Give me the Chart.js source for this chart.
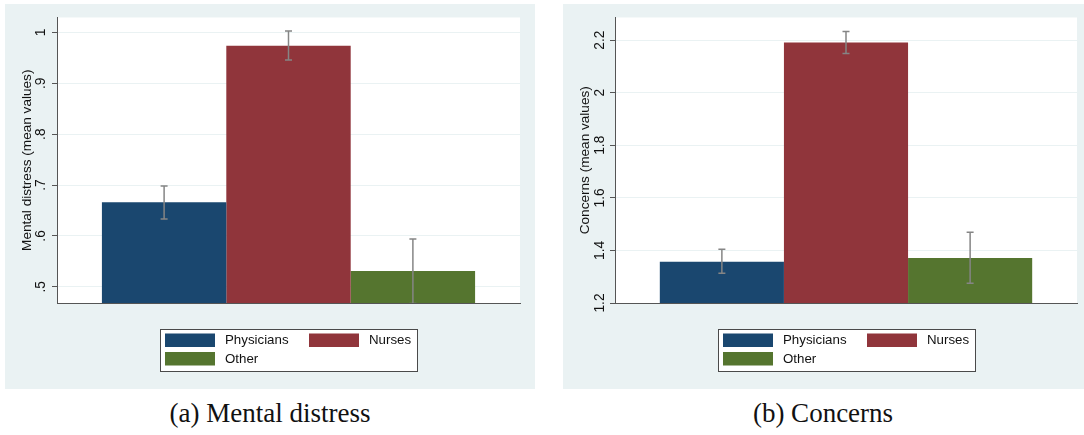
<!DOCTYPE html>
<html><head><meta charset="utf-8">
<script src="https://cdn.jsdelivr.net/npm/chart.js@4.4.1/dist/chart.umd.min.js"></script>
<style>
html,body{margin:0;padding:0;background:#fff;width:1084px;height:435px;overflow:hidden;}
.panel{position:absolute;background:#eaf2f3;}
.panel canvas{position:absolute;left:0;top:0;}
.cap{position:absolute;font-family:"Liberation Serif","Times New Roman",serif;font-size:27px;line-height:27px;text-align:center;color:#111;white-space:nowrap;width:400px;}
</style></head><body>
<div class="panel" style="left:5px;top:4px;width:530px;height:385px"><canvas id="c1" width="530" height="385"></canvas></div>
<div class="panel" style="left:563px;top:4px;width:521px;height:385px"><canvas id="c2" width="521" height="385"></canvas></div>
<div class="cap" style="left:70px;top:400px">(a) Mental distress</div>
<div class="cap" style="left:623px;top:400px">(b) Concerns</div>
<script>
// ---- data ----
const groups = ['Physicians', 'Nurses', 'Other'];

const distressMeans = [0.666, 0.974, 0.531];
const distressLower = [0.633, 0.946, 0.467];
const distressUpper = [0.698, 1.003, 0.594];
const distressTicks = [0.5, 0.6, 0.7, 0.8, 0.9, 1.0];
const distressTickLabels = ['.5', '.6', '.7', '.8', '.9', '1'];

const concernsMeans = [1.357, 2.191, 1.371];
const concernsLower = [1.313, 2.149, 1.275];
const concernsUpper = [1.404, 2.233, 1.469];
const concernsTicks = [1.2, 1.4, 1.6, 1.8, 2.0, 2.2];
const concernsTickLabels = ['1.2', '1.4', '1.6', '1.8', '2', '2.2'];

// ---- styles ----
const COLORS = ['#1a476f', '#90353b', '#55752f'];
const FONT = '"Liberation Sans", Arial, Helvetica, sans-serif';
const AXIS = '#555555';

const plotBg = {
  id: 'plotBg',
  beforeDraw(chart) {
    const {ctx, chartArea: a} = chart;
    ctx.save();
    ctx.fillStyle = '#ffffff';
    ctx.fillRect(a.left, a.top, a.right - a.left, a.bottom - a.top);
    ctx.restore();
  }
};

const errBars = {
  id: 'errBars',
  afterDatasetsDraw(chart) {
    const {ctx, chartArea: a, scales: {y}} = chart;
    ctx.save();
    ctx.beginPath();
    ctx.rect(a.left, a.top, a.right - a.left, a.bottom - a.top);
    ctx.clip();
    ctx.strokeStyle = '#858585';
    ctx.lineWidth = 1.5;
    chart.data.datasets.forEach((ds, i) => {
      const bar = chart.getDatasetMeta(i).data[0];
      const x = bar.x;
      const yl = y.getPixelForValue(ds.lower);
      const yh = y.getPixelForValue(ds.upper);
      ctx.beginPath();
      ctx.moveTo(x, yl); ctx.lineTo(x, yh);
      ctx.moveTo(x - 3.5, yl); ctx.lineTo(x + 3.5, yl);
      ctx.moveTo(x - 3.5, yh); ctx.lineTo(x + 3.5, yh);
      ctx.stroke();
    });
    ctx.restore();
  }
};

const boxLegend = {
  id: 'boxLegend',
  afterDraw(chart) {
    const {ctx, chartArea: a} = chart;
    const w = 257, h = 42;
    const x0 = Math.round((a.left + a.right) / 2 - w / 2) + 0.5;
    const y0 = Math.round(a.bottom + 26) + 0.5;
    ctx.save();
    ctx.fillStyle = '#ffffff';
    ctx.fillRect(x0, y0, w, h);
    ctx.strokeStyle = '#4a4a4a';
    ctx.lineWidth = 1;
    ctx.strokeRect(x0, y0, w, h);
    ctx.font = '13.3px ' + FONT;
    ctx.textBaseline = 'middle';
    chart.data.datasets.forEach((ds, i) => {
      const col = i % 2, row = Math.floor(i / 2);
      const sx = x0 - 0.5 + 5 + col * 144;
      const sy = y0 - 0.5 + 4.5 + row * 18.5;
      ctx.fillStyle = ds.backgroundColor;
      ctx.fillRect(sx, sy, 50, 13.5);
      ctx.fillStyle = '#111';
      ctx.fillText(ds.label, sx + 60, sy + 7);
    });
    ctx.restore();
  }
};

function makeChart(id, means, lower, upper, ticks, tickLabels, yMin, yMax, title, padRight, tickPad) {
  return new Chart(document.getElementById(id), {
    type: 'bar',
    data: {
      labels: [''],
      datasets: groups.map((g, i) => ({
        label: g,
        data: [means[i]],
        lower: lower[i],
        upper: upper[i],
        backgroundColor: COLORS[i],
        borderWidth: 0
      }))
    },
    options: {
      responsive: false,
      animation: false,
      events: [],
      categoryPercentage: 0.806,
      barPercentage: 1,
      layout: {padding: {left: 0, top: 13.5, right: padRight, bottom: 86}},
      plugins: {legend: {display: false}, tooltip: {enabled: false}},
      scales: {
        x: {
          type: 'category',
          grid: {display: false},
          ticks: {display: false},
          border: {display: true, color: AXIS, width: 1},
          afterFit: s => { s.height = 0; }
        },
        y: {
          min: yMin,
          max: yMax,
          afterBuildTicks: s => { s.ticks = ticks.map(v => ({value: v})); },
          afterFit: s => { s.width = 52; },
          ticks: {
            minRotation: 90,
            maxRotation: 90,
            crossAlign: 'center',
            padding: tickPad,
            color: '#111',
            font: {family: FONT, size: 13.8},
            callback: (v) => {
              const k = ticks.findIndex(t => Math.abs(t - v) < 1e-9);
              return k >= 0 ? tickLabels[k] : '';
            }
          },
          grid: {color: '#eaf2f3', lineWidth: 1, tickColor: AXIS, tickLength: 5, drawTicks: true},
          border: {display: true, color: AXIS, width: 1},
          title: {display: true, text: title, color: '#111', font: {family: FONT, size: 13.6}, padding: {top: 14, bottom: 0}}
        }
      }
    },
    plugins: [plotBg, errBars, boxLegend]
  });
}

makeChart('c1', distressMeans, distressLower, distressUpper, distressTicks, distressTickLabels,
  0.468, 1.0295, 'Mental distress (mean values)', 15, 5);
makeChart('c2', concernsMeans, concernsLower, concernsUpper, concernsTicks, concernsTickLabels,
  1.2, 2.286, 'Concerns (mean values)', 7, 0);
</script>
</body></html>
